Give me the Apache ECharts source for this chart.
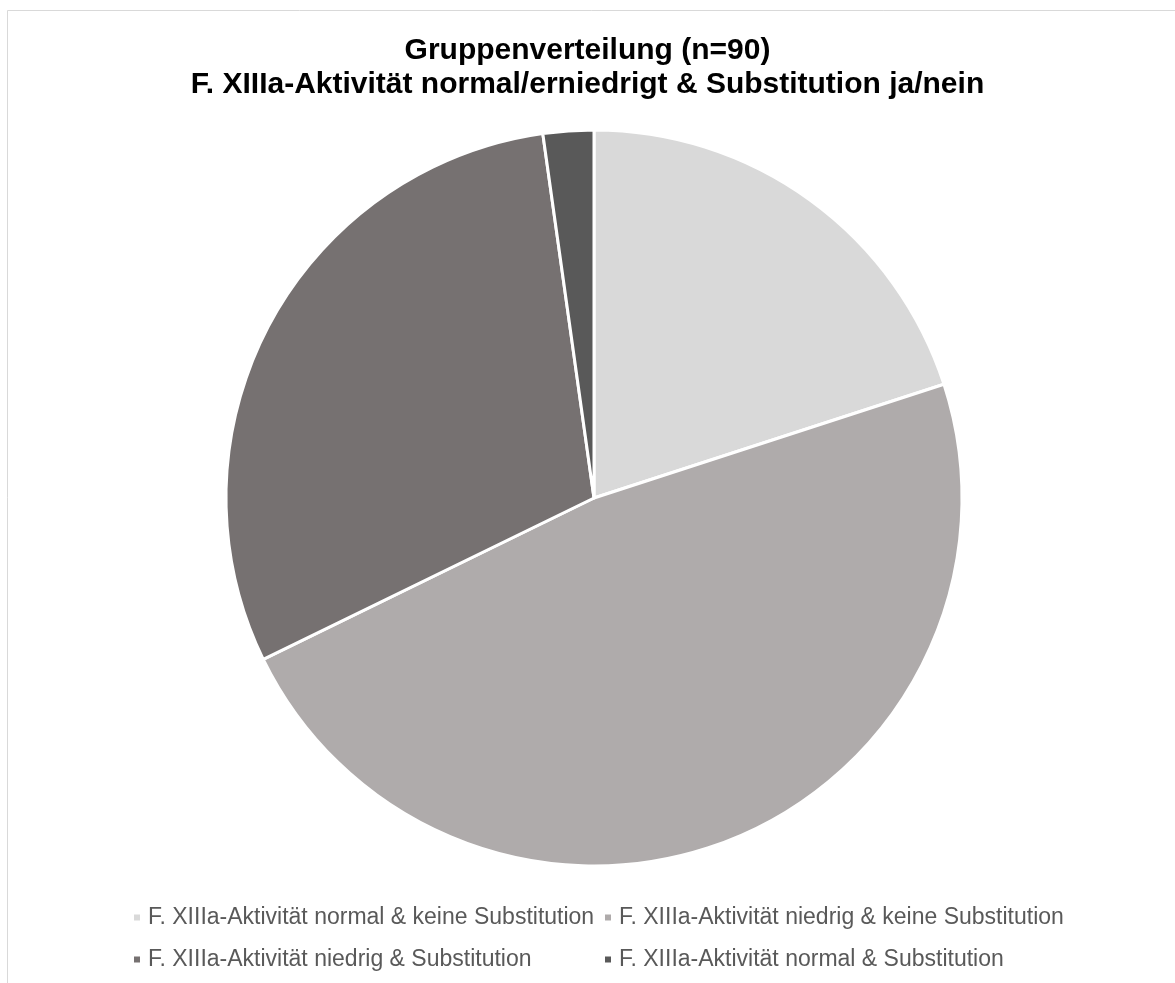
<!DOCTYPE html>
<html>
<head>
<meta charset="utf-8">
<script src="https://cdn.jsdelivr.net/npm/echarts@6/dist/echarts.min.js"></script>
<style>
  html, body { margin: 0; padding: 0; background: #fff; }
  #chart { width: 1175px; height: 983px; }
</style>
</head>
<body>
<div id="chart"></div>
<script>
// Gruppen (Reihenfolge im Uhrzeigersinn ab 12 Uhr)
const categories = [
  'F. XIIIa-Aktivität normal & keine Substitution',
  'F. XIIIa-Aktivität niedrig & keine Substitution',
  'F. XIIIa-Aktivität niedrig & Substitution',
  'F. XIIIa-Aktivität normal & Substitution'
]
const counts = [18, 43, 27, 2]
const sliceColors = ['#d9d9d9', '#afabab', '#767171', '#595959']
const titleText = 'Gruppenverteilung (n=90)\nF. XIIIa-Aktivität normal/erniedrigt & Substitution ja/nein'

const chart = echarts.init(document.getElementById('chart'))

const legendBase = {
  orient: 'vertical',
  top: 906,
  padding: 0,
  itemWidth: 8,
  itemHeight: 8,
  itemGap: 19,
  icon: 'rect',
  textStyle: {
    fontFamily: 'Liberation Sans, Arial, sans-serif',
    fontSize: 23,
    color: '#595959',
    padding: [0, 0, 0, 2]
  }
}

const option = {
  backgroundColor: '#fff',
  color: sliceColors,
  title: {
    text: titleText,
    left: 'center',
    top: 29,
    textStyle: {
      fontFamily: 'Liberation Sans, Arial, sans-serif',
      fontSize: 30,
      fontWeight: 'bold',
      color: '#000',
      lineHeight: 34
    }
  },
  // Excel-artige Legende: zwei feste Spalten
  legend: [
    Object.assign({}, legendBase, { left: 132, data: [categories[0], categories[2]] }),
    Object.assign({}, legendBase, { left: 603, data: [categories[1], categories[3]] })
  ],
  graphic: [
    {
      type: 'rect',
      shape: { x: 7.5, y: 10.5, width: 1300, height: 1100 },
      style: { fill: 'none', stroke: '#d9d9d9', lineWidth: 1 },
      silent: true
    }
  ],
  series: [
    {
      type: 'pie',
      center: [594, 498],
      radius: [0, 368],
      startAngle: 90,
      clockwise: true,
      label: { show: false },
      labelLine: { show: false },
      itemStyle: { borderColor: '#fff', borderWidth: 3 },
      emphasis: { disabled: true },
      data: categories.map((name, i) => ({ name: name, value: counts[i] }))
    }
  ]
}

chart.setOption(option)
</script>
</body>
</html>
